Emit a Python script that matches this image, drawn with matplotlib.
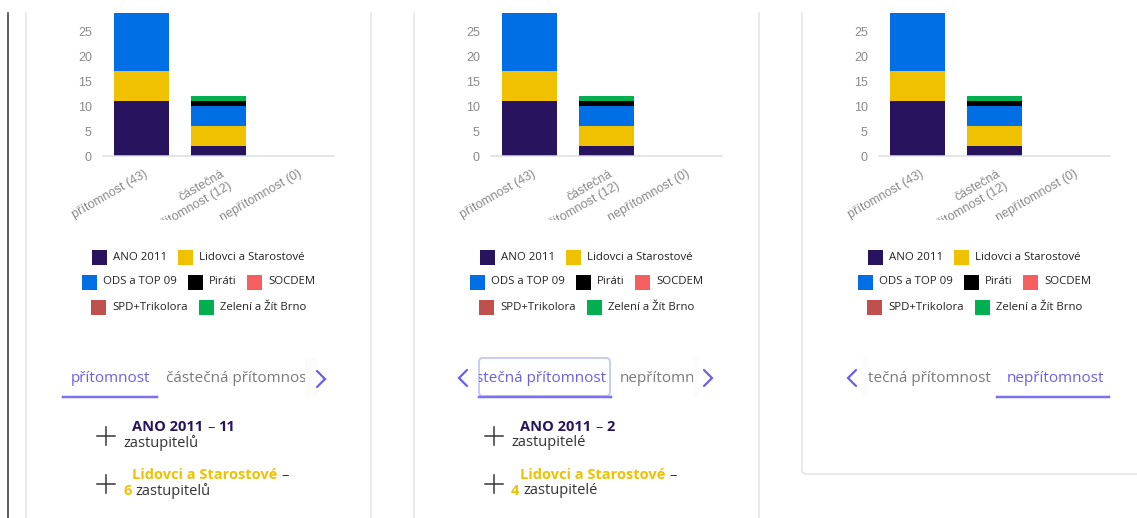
import matplotlib
matplotlib.use("Agg")
import matplotlib.pyplot as plt
import numpy as np
from matplotlib.patches import Rectangle, FancyBboxPatch
from matplotlib.transforms import offset_copy, Bbox

W, H = 1137, 518

categories = ["přítomnost (43)", "částečná\npřítomnost (12)", "nepřítomnost (0)"]
parties = ["ANO 2011", "Lidovci a Starostové", "ODS a TOP 09", "Piráti",
           "SOCDEM", "SPD+Trikolora", "Zelení a Žít Brno"]
colors = ["#28135f", "#efc100", "#006fe6", "#000000", "#f65f5f", "#c0504d", "#00b050"]

# seats per attendance category: přítomnost, částečná přítomnost, nepřítomnost
ano = [11, 2, 0]
lidovci = [6, 4, 0]
ods = [12, 4, 0]
pirati = [6, 1, 0]
socdem = [0, 0, 0]
spd = [4, 0, 0]
zeleni = [4, 1, 0]
series = [ano, lidovci, ods, pirati, socdem, spd, zeleni]

yticks = [0, 5, 10, 15, 20, 25]
legend_rows = [[0, 1], [2, 3, 4], [5, 6]]
tab_labels = ["přítomnost", "částečná přítomnost", "nepřítomnost"]

UI_FONT = "Open Sans"
AX_FONT = "Liberation Sans"
ACCENT = "#6b5fe8"
GREY_TXT = "#7a7a7a"
BORDER = "#e4e4e4"

fig = plt.figure(figsize=(W / 100, H / 100), dpi=100)
fig.patch.set_facecolor("white")
ui = fig.add_axes([0, 0, 1, 1])
ui.set_xlim(0, W)
ui.set_ylim(H, 0)
ui.axis("off")
renderer = fig.canvas.get_renderer()


def px(v):
    return v * 0.72


def clip_box(x0, y0, x1, y1):
    # pixel box (top-left origin) -> display bbox
    return Bbox([[x0, H - y1], [x1, H - y0]])


def put(x, y, s, clip=None, **kw):
    t = ui.text(x, y, s, va="center", ha="left", family=UI_FONT, **kw)
    if clip is not None:
        t.set_clip_box(clip)
        t.set_clip_on(True)
    return x + t.get_window_extent(renderer).width


def width_of(s, **kw):
    t = ui.text(0, 0, s, family=UI_FONT, **kw)
    w = t.get_window_extent(renderer).width
    t.remove()
    return w


def chevron(x, y, right=True):
    d = 4 if right else -4
    ui.plot([x - d, x + d, x - d], [y - 8, y, y + 8], color=ACCENT,
            lw=px(2.2), solid_capstyle="round", solid_joinstyle="miter")


def seats_word(n):
    return "zastupitelé" if 2 <= n <= 4 else "zastupitelů"


# page frame
ui.plot([8, 8], [13, H], color="#3a3a3a", lw=px(1.6))
for off in (0, 388):
    ui.plot([25.5 + off, 25.5 + off], [13, H], color=BORDER, lw=px(1.5))
    ui.plot([371 + off, 371 + off], [13, H], color=BORDER, lw=px(1.5))
ui.plot([802, 802], [13, 470], color=BORDER, lw=px(1.5))
ui.plot([802, 802.8, 805], [470, 472.6, 473.5], color=BORDER, lw=px(1.5))
ui.plot([805, W], [473.5, 473.5], color=BORDER, lw=px(1.5))


def draw_chart(off):
    ax = fig.add_axes([(103 + off) / W, 1 - 156 / H, 231 / W, 143 / H])
    ax.patch.set_alpha(0)
    x = np.arange(len(categories))
    bottom = np.zeros(len(categories))
    for vals, c in zip(series, colors):
        ax.bar(x, vals, 0.714, bottom=bottom, color=c, linewidth=0)
        bottom += np.array(vals)
    ax.set_xlim(-0.5, 2.5)
    ax.set_ylim(0, 28.6)
    ax.set_yticks(yticks)
    ax.set_xticks([])
    for s in ("top", "right", "left"):
        ax.spines[s].set_visible(False)
    ax.spines["bottom"].set_color("#dddddd")
    ax.spines["bottom"].set_linewidth(px(1.5))
    ax.tick_params(axis="y", length=0, pad=8, labelsize=9, labelcolor="#8a8a8a")
    for lab in ax.get_yticklabels():
        lab.set_family(AX_FONT)
    trans = offset_copy(ax.get_xaxis_transform(), fig=fig, x=2, y=-12, units="dots")
    clip = clip_box(26 + off, 0, 371 + off, 220)
    for i, lab in enumerate(categories):
        t = ax.text(x[i], 0, lab, transform=trans, rotation=30, ha="right", va="top",
                    rotation_mode="anchor", multialignment="right", fontsize=9,
                    color="#8a8a8a", family=AX_FONT, linespacing=1.25)
        t.set_clip_box(clip)
        t.set_clip_on(True)


def draw_legend(off):
    cx = off + 198.5
    for r, row in enumerate(legend_rows):
        y = 257 + 25 * r
        widths = [width_of(parties[k], fontsize=8.2) for k in row]
        total = sum(21 + w for w in widths) + 11 * (len(row) - 1)
        xx = cx - total / 2
        for k, w in zip(row, widths):
            ui.add_patch(Rectangle((xx, y - 7.5), 15, 15, color=colors[k], lw=0))
            ui.text(xx + 21, y, parties[k], va="center", ha="left", family=UI_FONT,
                    fontsize=8.2, color="#222222")
            xx += 21 + w + 11


def draw_list(off, idx):
    fs = 10.5
    items = [(0, ano[idx]), (1, lidovci[idx])]
    for j, (k, n) in enumerate(items):
        y = 427 + 48 * j
        ui.plot([97 + off, 115 + off], [y + 9, y + 9], color="#333333", lw=px(1.5))
        ui.plot([106 + off, 106 + off], [y, y + 18], color="#333333", lw=px(1.5))
        name = parties[k]
        xe = put(132 + off, y, name, fontsize=fs, weight="bold", color=colors[k])
        if len(name) > 12:
            put(xe + 4, y, "–", fontsize=fs, color="#333333")
            xe2 = put(123 + off, y + 16, str(n), fontsize=fs, weight="bold", color=colors[k])
            put(xe2 + 4, y + 16, seats_word(n), fontsize=fs, color="#333333")
        else:
            xe = put(xe + 4, y, "–", fontsize=fs, color="#333333")
            put(xe + 4, y, str(n), fontsize=fs, weight="bold", color=colors[k])
            put(123 + off, y + 16, seats_word(n), fontsize=fs, color="#333333")


for off in (0, 388, 776):
    draw_chart(off)
    draw_legend(off)

# tabs, panel 1
put(71, 379, tab_labels[0], fontsize=11, color=ACCENT)
ui.plot([63, 157], [397, 397], color="#7b72ee", lw=px(2.5))
put(166, 379, tab_labels[1], clip=clip_box(160, 350, 305, 400), fontsize=11, color=GREY_TXT)
ui.add_patch(Rectangle((305, 357), 12, 40, color="#fcfcfc", lw=0))
chevron(321, 379, right=True)

# tabs, panel 2
chevron(463, 378, right=False)
put(476, 378, tab_labels[1][2:], clip=clip_box(479, 350, 615, 400), fontsize=11, color=ACCENT)
ui.add_patch(FancyBboxPatch((479, 358), 131, 38, boxstyle="round,pad=0,rounding_size=4",
                            fc="none", ec="#c9ccf6", lw=px(2)))
ui.plot([479, 611], [396.5, 396.5], color="#7b72ee", lw=px(2.5))
put(620, 378, tab_labels[2], clip=clip_box(615, 350, 693, 400), fontsize=11, color=GREY_TXT)
ui.add_patch(Rectangle((693, 357), 6, 40, color="#fcfcfc", lw=0))
chevron(708, 378, right=True)

# tabs, panel 3
chevron(852, 378, right=False)
ui.add_patch(Rectangle((862, 357), 6, 40, color="#fcfcfc", lw=0))
put(868, 378, tab_labels[1][3:], fontsize=11, color=GREY_TXT)
put(1007, 378, tab_labels[2], fontsize=11, color=ACCENT)
ui.plot([997, 1109], [397, 397], color="#7b72ee", lw=px(2.5))

draw_list(0, 0)
draw_list(388, 1)

fig.savefig("out.png", dpi=100, facecolor="white")
